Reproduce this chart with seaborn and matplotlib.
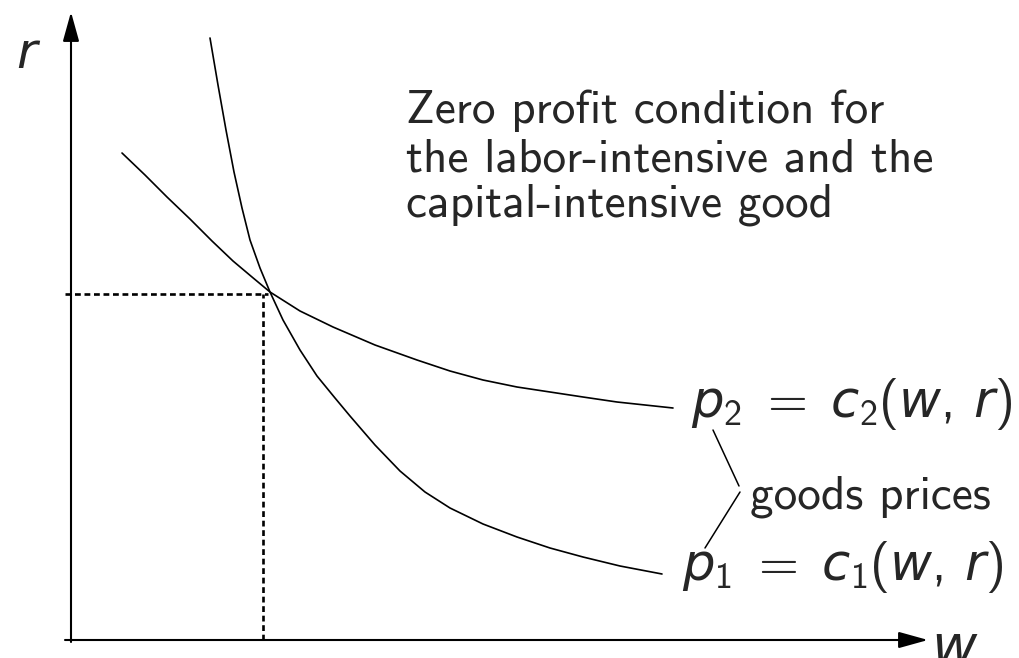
import numpy as np
import pandas as pd
import matplotlib
matplotlib.use("Agg")
import matplotlib.pyplot as plt
import seaborn as sns

# points (w, r) in chart units, origin at the axis corner
# p1: labor-intensive good (steep curve)
w_p1 = [1.39, 1.47, 1.55, 1.63, 1.71, 1.79, 1.89, 1.99, 2.12, 2.29, 2.46, 2.64,
        2.79, 3.04, 3.29, 3.54, 3.79, 4.12, 4.46, 4.79, 5.12, 5.49, 5.91]
r_p1 = [6.02, 5.55, 5.10, 4.68, 4.32, 4.00, 3.72, 3.48, 3.20, 2.90, 2.64, 2.42,
        2.24, 1.95, 1.69, 1.48, 1.32, 1.16, 1.03, 0.92, 0.83, 0.74, 0.66]
# p2: capital-intensive good (flatter curve)
w_p2 = [0.51, 0.74, 0.96, 1.19, 1.41, 1.62, 1.81, 1.99, 2.29, 2.62, 3.04, 3.46,
        3.79, 4.12, 4.46, 4.79, 5.12, 5.46, 5.74, 6.02]
r_p2 = [4.87, 4.65, 4.43, 4.21, 3.99, 3.79, 3.63, 3.48, 3.29, 3.13, 2.95, 2.80,
        2.69, 2.60, 2.53, 2.48, 2.43, 2.38, 2.35, 2.32]

# equilibrium factor prices (dotted guides)
w_star = 1.92
r_star = 3.46

main_text = ["Zero profit condition for", "the labor-intensive and the", "capital-intensive good"]
label_p2 = r"$p_2\;=\;c_2(w,\,r)$"
label_p1 = r"$p_1\;=\;c_1(w,\,r)$"
label_prices = "goods prices"

sns.set_style("white")
plt.rcParams["font.family"] = ["cmss10", "DejaVu Sans"]
plt.rcParams["mathtext.fontset"] = "custom"
plt.rcParams["mathtext.rm"] = "cmss10"
plt.rcParams["mathtext.it"] = "DejaVu Sans:italic"
plt.rcParams["axes.unicode_minus"] = False

fig = plt.figure(figsize=(10.19, 6.58), dpi=100)
ax = fig.add_axes([0, 0, 1, 1])

df1 = pd.DataFrame({"w": w_p1, "r": r_p1})
df2 = pd.DataFrame({"w": w_p2, "r": r_p2})
sns.lineplot(data=df1, x="w", y="r", sort=False, color="black", lw=1.2, ax=ax,
             solid_joinstyle="round")
sns.lineplot(data=df2, x="w", y="r", sort=False, color="black", lw=1.2, ax=ax,
             solid_joinstyle="round")

# dotted guides to the axes
ax.plot([-0.06, w_star + 0.05], [r_star, r_star], color="black", lw=1.9, dashes=(2.2, 1.4))
ax.plot([w_star, w_star], [0, r_star], color="black", lw=1.9, dashes=(2.2, 1.4))

# axes with arrows
arrow = dict(arrowstyle="-|>,head_length=0.9,head_width=0.25", color="black", lw=1.5,
             shrinkA=0, shrinkB=0, mutation_scale=20)
ax.annotate("", xy=(0, 6.28), xytext=(0, -0.02), arrowprops=arrow)
ax.annotate("", xy=(8.57, 0), xytext=(-0.06, 0), arrowprops=arrow)
ax.text(-0.55, 5.72, r"$r$", fontsize=36, va="baseline")
ax.text(8.60, -0.24, r"$w$", fontsize=40, va="baseline")

for i, line in enumerate(main_text):
    ax.text(3.35, [5.17, 4.68, 4.23][i], line, fontsize=34, va="baseline")

ax.text(6.20, 2.23, label_p2, fontsize=37, va="baseline")
ax.text(6.11, 0.60, label_p1, fontsize=37, va="baseline")
ax.text(6.79, 1.31, label_prices, fontsize=34, va="baseline")

# leader lines to "goods prices"
ax.plot([6.42, 6.68], [2.10, 1.54], color="black", lw=1.1)
ax.plot([6.69, 6.34], [1.48, 0.92], color="black", lw=1.1)

ax.set_xlim(-0.71, 9.48)
ax.set_ylim(-0.18, 6.40)
ax.set_axis_off()

fig.savefig("out.png", dpi=100)
